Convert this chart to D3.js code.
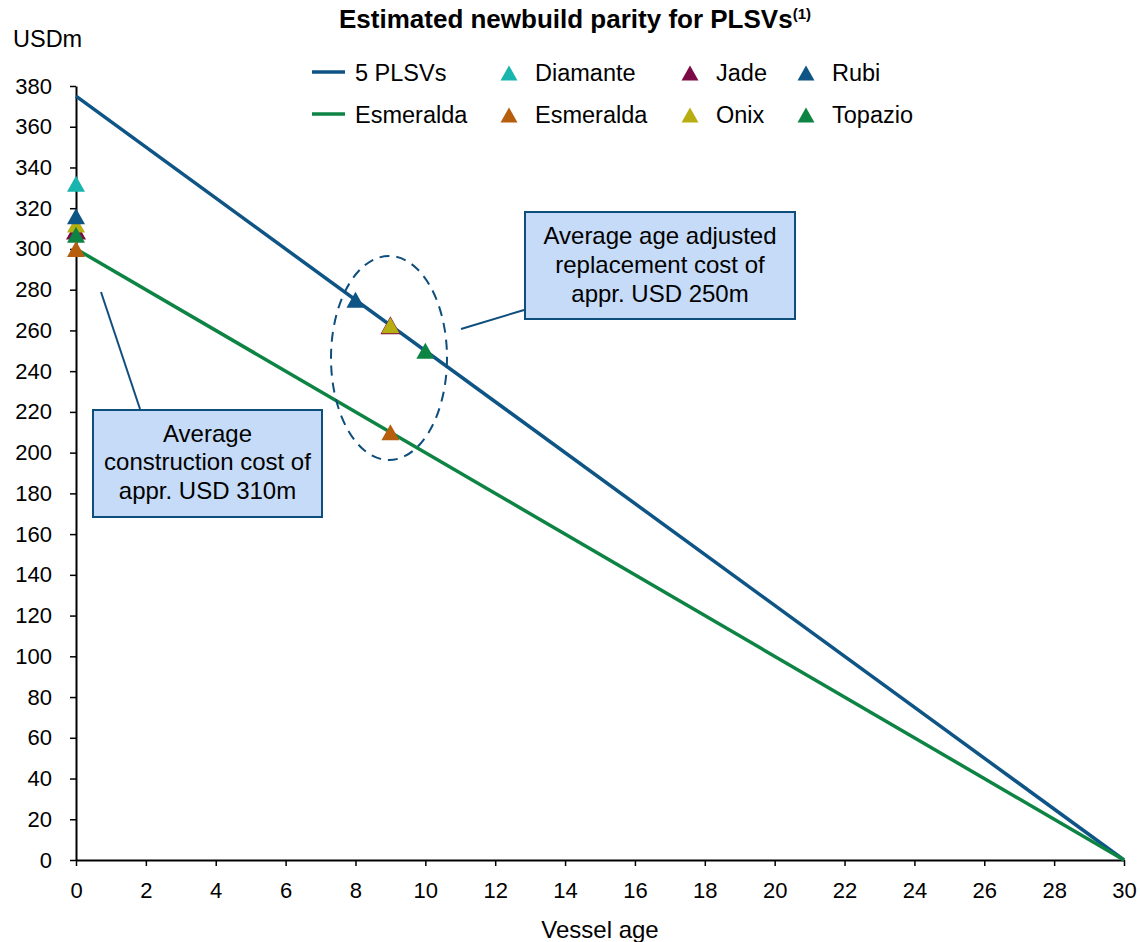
<!DOCTYPE html>
<html><head><meta charset="utf-8">
<script src="https://cdn.jsdelivr.net/npm/d3@7"></script>
<style>body{margin:0;background:#fff;} text{font-family:Arial,"Liberation Sans",sans-serif;}</style>
</head><body><svg id="c" width="1140" height="942"></svg>
<script>
const xTicks = [0,2,4,6,8,10,12,14,16,18,20,22,24,26,28,30];
const yTicks = [0,20,40,60,80,100,120,140,160,180,200,220,240,260,280,300,320,340,360,380];
const lineNames = ["5 PLSVs","Esmeralda"];
const lineColors = ["#0E5586","#0E8444"];
const lineAges = [[0,30],[0,30]];
const lineValues = [[375,0],[300,0]];
const markerNames = ["Diamante","Jade","Onix","Rubi","Topazio","Esmeralda"];
const markerColors = ["#17B5AE","#7C0A47","#B7AE12","#0E5586","#0E8444","#B65D0E"];
const markerAges = [[0],[0,9],[0,9],[0,8],[0,10],[0,9]];
const markerValues = [[332],[309,262.5],[312,262.5],[316,275],[307,250],[300,210]];
const legendOrder = [["line",0],["marker","Diamante"],["marker","Jade"],["marker","Rubi"],["line",1],["marker","Esmeralda"],["marker","Onix"],["marker","Topazio"]];

const svg = d3.select("#c");
const x = d3.scaleLinear().domain([0,30]).range([76,1124]);
const y = d3.scaleLinear().domain([0,380]).range([860,86]);

function triPath(w,h){
  return `M0,${-h/2}L${w/2},${h/2}L${-w/2},${h/2}Z`;
}

// title
const t = svg.append("text").attr("x",575).attr("y",28).attr("text-anchor","middle")
  .attr("font-size",26).attr("font-weight","bold").attr("fill","#000");
t.append("tspan").text("Estimated newbuild parity for PLSVs");
t.append("tspan").attr("font-size",15).attr("dy",-9).text("(1)");
svg.append("text").attr("x",13).attr("y",47).attr("font-size",23.5).text("USDm");

// axes
const ya = svg.append("g").attr("transform","translate(76,0)")
  .call(d3.axisLeft(y).tickValues(yTicks).tickSize(6).tickPadding(18).tickSizeOuter(0));
const xa = svg.append("g").attr("transform","translate(0,860)")
  .call(d3.axisBottom(x).tickValues(xTicks).tickSize(6).tickPadding(16).tickSizeOuter(0));
[ya,xa].forEach(a=>{
  a.attr("font-size",22);
  a.selectAll("text").attr("font-size",22).attr("fill","#000").style("font-family","Arial, 'Liberation Sans', sans-serif");
  a.selectAll("line").attr("stroke","#000").attr("stroke-width",1.5);
  a.select(".domain").attr("stroke","#000").attr("stroke-width",2);
});
svg.append("text").attr("x",600).attr("y",938).attr("text-anchor","middle").attr("font-size",24).text("Vessel age");

// lines
const lineGen = d3.line().x(d=>x(d[0])).y(d=>y(d[1]));
lineNames.forEach((n,i)=>{
  const pts = lineAges[i].map((a,j)=>[a,lineValues[i][j]]);
  svg.append("path").attr("d",lineGen(pts)).attr("fill","none")
    .attr("stroke",lineColors[i]).attr("stroke-width",3.5);
});

// markers
markerNames.forEach((n,i)=>{
  const big = n==="Jade";
  markerAges[i].forEach((a,j)=>{
    svg.append("path").attr("d",big?triPath(20,18):triPath(18,16))
      .attr("transform",`translate(${x(a)},${y(markerValues[i][j])})`)
      .attr("fill",markerColors[i]);
  });
});

// ellipse
svg.append("ellipse").attr("cx",389).attr("cy",358).attr("rx",58).attr("ry",102)
  .attr("fill","none").attr("stroke","#0E4E7C").attr("stroke-width",2).attr("stroke-dasharray","10,7");

// annotations
function box(x0,y0,w,h,lines,ly,sp){
  svg.append("rect").attr("x",x0).attr("y",y0).attr("width",w).attr("height",h)
    .attr("fill","#C5DBF7").attr("stroke","#0E4E7C").attr("stroke-width",2);
  lines.forEach((s,k)=>svg.append("text").attr("x",x0+w/2).attr("y",ly+k*sp)
    .attr("text-anchor","middle").attr("font-size",24).attr("fill","#000").text(s));
}
svg.append("line").attr("x1",101).attr("y1",292).attr("x2",140).attr("y2",409).attr("stroke","#0E4E7C").attr("stroke-width",2);
svg.append("line").attr("x1",461).attr("y1",329).attr("x2",524).attr("y2",310).attr("stroke","#0E4E7C").attr("stroke-width",2);
box(93,410,229,107,["Average","construction cost of","appr. USD 310m"],442,28.3);
box(525,212,270,107,["Average age adjusted","replacement cost of","appr. USD 250m"],244,28.8);

// legend
const lg = svg.append("g");
const colX = [312,497,678,794];
const rowY = [73,115];
legendOrder.forEach((it,k)=>{
  const r = Math.floor(k/4), c = k%4;
  const cx = colX[c], cy = rowY[r];
  let label, col;
  if(it[0]==="line"){
    label = lineNames[it[1]]; col = lineColors[it[1]];
    lg.append("line").attr("x1",cx).attr("x2",cx+33).attr("y1",cy-1).attr("y2",cy-1).attr("stroke",col).attr("stroke-width",3.5);
    lg.append("text").attr("x",cx+43).attr("y",cy+8).attr("font-size",23.5).text(label);
  } else {
    const i = markerNames.indexOf(it[1]);
    label = it[1]; col = markerColors[i];
    lg.append("path").attr("d",triPath(17,15)).attr("transform",`translate(${cx+12},${cy})`).attr("fill",col);
    lg.append("text").attr("x",cx+38).attr("y",cy+8).attr("font-size",23.5).text(label);
  }
});
</script></body></html>
